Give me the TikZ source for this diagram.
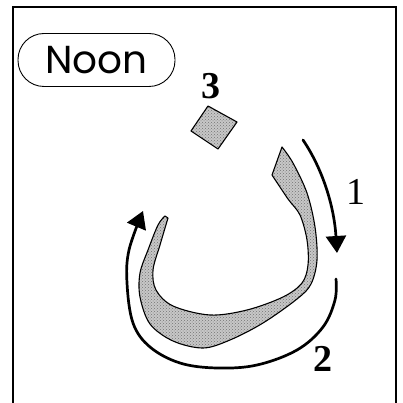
\documentclass[tikz,border=0pt]{standalone}
\usepackage{fontspec}
\setmainfont{Liberation Serif}
\newfontfamily\namefont{Poppins}
\usetikzlibrary{arrows.meta, patterns}

\begin{document}
\begin{tikzpicture}[
    x=1pt, y=-1pt,
    >={Triangle[length=17pt, width=20pt]},
    frameline/.style={line width=1.7pt},
    namebox/.style={
        draw, rounded corners=26pt, line width=0.9pt,
        minimum width=157pt, minimum height=53pt,
        font=\namefont\fontsize{39}{39}\selectfont,
    },
    numlabel/.style={font=\fontsize{38}{38}\selectfont\bfseries, inner sep=0pt},
    letterbody/.style={draw, line width=1.1pt, line join=round,
        preaction={fill=black!22}, pattern=crosshatch dots, pattern color=black!55},
    strokearr/.style={->, line width=2.7pt, line cap=round},
]
\useasboundingbox (0,0) rectangle (402,403);

% Frame
\draw[frameline] (13,403) -- (13,7) -- (396,7) -- (396,403);

% Name of the letter
\node[namebox] (name) at (96.5,60) {Noon};

% Letter body
\draw[letterbody] plot[smooth, tension=0.55] coordinates {
    (282,147) (293,163) (307,193) (315,227) (317,260) (311,284) (297,299)
    (263,323) (230,340) (203,348) (173,341) (150,324) (140,297) (140,273)
    (148,250) (158,225) (165,216)}
    -- plot[smooth, tension=0.55] coordinates {
    (168,218) (160,245) (153,270) (156,290) (173,306) (210,315) (247,310)
    (283,297) (302,283) (308,265) (307,240) (300,215) (288,199) (272,175)}
    -- cycle;

% Dot
\draw[letterbody] (208,106) -- (237,122) -- (218,149) -- (191,131) -- cycle;

% Stroke order arrows
\draw[strokearr] (303,140) .. controls (322,168) and (334,205) .. (337,253);
\draw[strokearr] plot[smooth, tension=0.6] coordinates {
    (336,279) (335,300) (323,327) (297,350) (257,365) (217,368) (180,363)
    (150,347) (133,323) (127,283) (129,250) (143,211)};

% Numbers
\node[numlabel, font=\fontsize{38}{38}\selectfont] (one) at (356,192) {1};
\node[numlabel] (two) at (323,359) {2};
\node[numlabel] (three) at (211,86) {3};

\end{tikzpicture}
\end{document}
